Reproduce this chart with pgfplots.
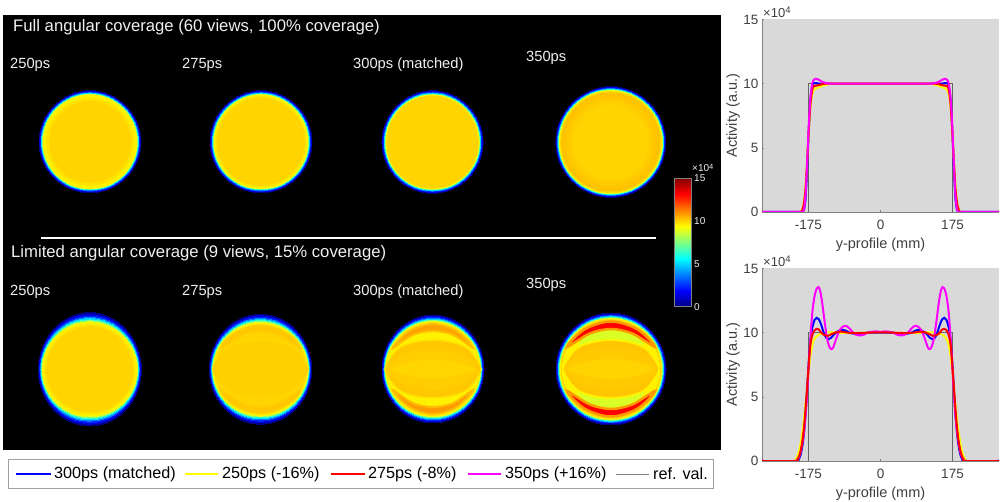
\documentclass[border=0pt]{standalone}
\usepackage{fontspec}
\setmainfont{Liberation Sans}
\usepackage{pgfplots}
\pgfplotsset{compat=1.18}
\definecolor{j0}{rgb}{0,0,.5}
\definecolor{j1}{rgb}{0,0,.85}
\definecolor{j2}{rgb}{0,.15,1}
\definecolor{j3}{rgb}{0,.5,1}
\definecolor{j4}{rgb}{0,.85,1}
\definecolor{j5}{rgb}{.2,1,.8}
\definecolor{j6}{rgb}{.55,1,.45}
\definecolor{j7}{rgb}{.85,1,.15}
\definecolor{j8}{rgb}{1,.95,0}
\definecolor{j9}{rgb}{1,.89,0}
\definecolor{gold}{rgb}{1,.83,0}
\definecolor{or}{rgb}{1,.6,0}
\definecolor{cB}{rgb}{0,0,1}
\definecolor{cY}{rgb}{1,1,0}
\definecolor{cR}{rgb}{1,0,0}
\definecolor{cM}{rgb}{1,0,1}
\definecolor{panelgray}{HTML}{D9D9D9}
\definecolor{tickgray}{HTML}{404040}
\definecolor{txt}{HTML}{F0F0F0}
\newcommand\lay[3]{\addplot[only marks,mark=*,mark size=1pt,mark options={draw=#1,line width=0pt,fill=#1,xscale=#2,yscale=#3}] coordinates {(0,0)};}
% outer rx, ry, inner rx, ry, ring width
\newcommand\edge[5]{%
\lay{j0}{#1}{#2}
\lay{j1}{#1+(#3-#1)*.18}{#2+(#4-#2)*.18}
\lay{j2}{#1+(#3-#1)*.34}{#2+(#4-#2)*.34}
\lay{j3}{#1+(#3-#1)*.48}{#2+(#4-#2)*.48}
\lay{j4}{#1+(#3-#1)*.6}{#2+(#4-#2)*.6}
\lay{j5}{#1+(#3-#1)*.72}{#2+(#4-#2)*.72}
\lay{j6}{#1+(#3-#1)*.81}{#2+(#4-#2)*.81}
\lay{j7}{#1+(#3-#1)*.9}{#2+(#4-#2)*.9}
\lay{j8}{#3}{#4}
\lay{j9}{#3-.5*#5}{#4-.5*#5}
\lay{gold}{#3-#5}{#4-#5}}
\newcommand\panel[3]{\begin{axis}[at={(#1pt,{502pt-#2pt})},anchor=center,width=130pt,height=130pt,scale only axis,xmin=-65,xmax=65,ymin=-65,ymax=65,hide axis,clip=false]
#3
\end{axis}}
\newcommand\shape[4]{\addplot[fill=#1,draw=#2,line width=#3,smooth cycle,tension=.6] coordinates {#4};}
\newcommand\eyeo{(-48,0)(-44,9)(-34,21)(-18,27)(0,29)(18,27)(34,21)(44,9)(48,0)(44,-9)(34,-21)(18,-27)(0,-29)(-18,-27)(-34,-21)(-44,-9)}
\newcommand\eyem{(-46,0)(-38,10)(-26,17)(-12,20)(0,21)(12,20)(26,17)(38,10)(46,0)(38,-10)(26,-17)(12,-20)(0,-21)(-12,-20)(-26,-17)(-38,-10)}
\newcommand\eyei{(-42,0)(-25,7)(0,10)(25,7)(42,0)(25,-7)(0,-10)(-25,-7)}
\newcommand\ctop{(-44,22)(-36,32)(-22,42)(0,47.5)(22,42)(36,32)(44,22)(34,28)(20,36)(0,40)(-20,36)(-34,28)}
\newcommand\cbot{(-44,-22)(-36,-32)(-22,-42)(0,-47.5)(22,-42)(36,-32)(44,-22)(34,-28)(20,-36)(0,-40)(-20,-36)(-34,-28)}
\newcommand\lbl[4][txt]{\node[anchor=west,inner sep=0pt,text=#1] at (#2pt,{502pt-#3pt}) {#4};}
\pgfplotsset{profile/.style={
  at={(762pt,{502pt-#1pt})},anchor=south west,width=237pt,height=192.5pt,scale only axis,
  xmin=-288,xmax=288,ymin=0,ymax=15,
  axis x line=bottom,axis y line=left,axis line style={-,draw=gray,line width=.7pt},
  axis background/.style={fill=panelgray},
  xtick={-175,0,175},xticklabels={-175,0,175},ytick={0,5,10,15},yticklabels={0,5,10,15},
  tick style={draw=gray,line width=.5pt},tick align=inside,major tick length=2pt,
  tick label style={font=\fontsize{13.5}{13.5}\selectfont,text=tickgray},
  xticklabel style={yshift=-5pt},
  label style={font=\fontsize{14.5}{14.5}\selectfont,text=tickgray},
  xlabel={y-profile (mm)},ylabel={Activity (a.u.)},
  xlabel style={at={(axis description cs:.5,0)},anchor=center,yshift=-32.5pt},
  ylabel style={at={(axis description cs:0,.5)},anchor=center,rotate=0,yshift=29pt},
  every axis plot/.append style={line width=2pt,no marks},clip=true}}
\begin{document}
\begin{tikzpicture}
\path[use as bounding box,fill=white] (0pt,0pt) rectangle (1002pt,502pt);
\fill[black] (3pt,{502pt-15pt}) rectangle (720.7pt,{502pt-450pt});

% top row
\panel{90}{141.7}{\edge{51}{51}{46.5}{46.5}{6}}
\panel{261}{141.7}{\edge{51}{51}{46.5}{46.5}{3}}
\panel{432.5}{142}{\edge{50.6}{51.3}{46.2}{46.6}{1}}
\panel{610.8}{142}{\edge{55}{55.3}{51}{51}{1}
\lay{gold!70!or}{49}{49}\lay{gold!76!or}{46}{46}\lay{gold!84!or}{43}{43}\lay{gold!92!or}{40}{40}\lay{gold}{37}{37}}
% bottom row
\panel{89.8}{369.3}{\edge{51.5}{56.7}{47}{46.5}{4}}
\panel{260.5}{369.2}{\edge{51.2}{55}{47}{46}{2}}
\panel{260.5}{369.2}{
\shape{gold!78!or}{gold!88!or}{1.5pt}{(-40,21)(-34,30)(-20,39)(0,44)(20,39)(34,30)(40,21)(30,27)(18,34)(0,38)(-18,34)(-30,27)}
\shape{gold!78!or}{gold!88!or}{1.5pt}{(-40,-21)(-34,-30)(-20,-39)(0,-44)(20,-39)(34,-30)(40,-21)(30,-27)(18,-34)(0,-38)(-18,-34)(-30,-27)}
\shape{gold!93!or}{gold!60!j9}{1pt}{\eyeo}}
\panel{433}{369}{\edge{51}{54}{47}{47}{1}
\lay{j8}{46}{46}}
\panel{433}{369}{
\shape{or!85!gold}{gold!60!or}{2pt}{(-40,21)(-33,30)(-20,40)(0,45)(20,40)(33,30)(40,21)(30,28)(18,35)(0,38)(-18,35)(-30,28)}
\shape{or}{gold!55!or}{2pt}{(-40,-21)(-33,-30)(-20,-40)(0,-45)(20,-40)(33,-30)(40,-21)(30,-28)(18,-35)(0,-38)(-18,-35)(-30,-28)}
\shape{gold!78!or}{j9}{1.5pt}{\eyeo}
\shape{gold!88!or}{gold!83!or}{1.5pt}{\eyem}
\shape{gold!95!cY}{gold!92!or}{1.5pt}{\eyei}}
\panel{611}{369}{\edge{55}{56}{50.5}{50}{1}
\lay{j8}{48.5}{47}
\lay{j7}{38}{45}}
\panel{611}{369}{
\shape{cR}{or}{2.5pt}{\ctop}
\shape{cR}{or}{2.5pt}{\cbot}
\shape{gold!75!or}{j8}{2pt}{\eyeo}
\shape{gold!86!or}{gold!80!or}{1.5pt}{\eyem}
\shape{gold}{gold!92!or}{1.5pt}{\eyei}}

% separators and texts
\draw[white,line width=1.5pt] (41pt,{502pt-238pt}) -- (656pt,{502pt-238pt});
\begingroup\fontsize{16.7}{16.7}\selectfont
\lbl{13}{27}{Full angular coverage (60 views, 100\% coverage)}
\lbl{11}{253}{Limited angular coverage (9 views, 15\% coverage)}
\endgroup
\begingroup\fontsize{14.7}{14.7}\selectfont
\lbl{10}{65}{250ps}\lbl{182}{65}{275ps}\lbl{353}{65}{300ps (matched)}\lbl{526}{58}{350ps}
\lbl{10}{292}{250ps}\lbl{182}{292}{275ps}\lbl{353}{292}{300ps (matched)}\lbl{526}{285}{350ps}
\endgroup

% colour bar
\begin{axis}[at={(674.3pt,{502pt-306.7pt})},anchor=south west,width=17.4pt,height=128.4pt,scale only axis,
  xmin=0,xmax=1,ymin=0,ymax=15,colormap/jet,axis on top,
  xtick=\empty,ytick={0,5,10,15},yticklabels={0,5,10,15},ytick pos=right,yticklabel pos=right,
  axis line style={draw=gray,line width=.5pt},major tick length=0pt,
  yticklabel style={font=\fontsize{10}{10}\selectfont,text=txt,xshift=-1pt}]
\addplot[surf,shader=interp,point meta=y,mesh/rows=2] coordinates {(0,0)(1,0)(0,15)(1,15)};
\end{axis}
\begingroup\fontsize{10}{10}\selectfont
\lbl{692}{168}{×10\raisebox{.5ex}{\fontsize{7.5}{7.5}\selectfont 4}}
\endgroup

% profile panels
\begin{axis}[profile=212]
\addplot[gray!80!black,line width=.9pt] coordinates {(-288,0)(-175,0)(-175,10)(175,10)(175,0)(288,0)};
\addplot[cB,smooth,tension=.4] coordinates {(-288,0)(-194,0)(-190,0)(-186,.15)(-182,1.1)(-178,3.6)(-174,6.6)(-170,8.8)(-166,9.8)(-162,10.05)(-156,10.05)(-145,10)(0,10)(145,10)(156,10.05)(162,10.05)(166,9.8)(170,8.8)(174,6.6)(178,3.6)(182,1.1)(186,.15)(190,0)(194,0)(288,0)};
\addplot[cY,smooth,tension=.4] coordinates {(-288,0)(-200,0)(-192,.1)(-188,.4)(-184,1.3)(-180,3.1)(-176,5.4)(-172,7.5)(-168,8.8)(-164,9.4)(-158,9.62)(-150,9.72)(-140,9.85)(-125,9.97)(-110,10)(0,10)(110,10)(125,9.97)(140,9.85)(150,9.72)(158,9.62)(164,9.4)(168,8.8)(172,7.5)(176,5.4)(180,3.1)(184,1.3)(188,.4)(192,.1)(200,0)(288,0)};
\addplot[cR,smooth,tension=.4] coordinates {(-288,0)(-198,0)(-190,.2)(-186,.7)(-182,1.9)(-178,4.1)(-174,6.6)(-170,8.5)(-166,9.5)(-162,9.82)(-155,9.85)(-145,9.92)(-130,10)(0,10)(130,10)(145,9.92)(155,9.85)(162,9.82)(166,9.5)(170,8.5)(174,6.6)(178,4.1)(182,1.9)(186,.7)(190,.2)(198,0)(288,0)};
\addplot[cM,smooth,tension=.4] coordinates {(-288,0)(-194,0)(-190,0)(-186,.2)(-182,1.3)(-178,4.1)(-174,7)(-170,9)(-166,10)(-162,10.3)(-157,10.38)(-150,10.3)(-140,10.12)(-128,10.02)(-115,10)(0,10)(115,10)(128,10.02)(140,10.12)(150,10.3)(157,10.38)(162,10.3)(166,10)(170,9)(174,7)(178,4.1)(182,1.3)(186,.2)(190,0)(194,0)(288,0)};
\end{axis}
\begin{axis}[profile=461]
\addplot[gray!80!black,line width=.9pt] coordinates {(-288,0)(-175,0)(-175,10)(175,10)(175,0)(288,0)};
\addplot[cY,smooth,tension=.5] coordinates {(-288,0)(-212,0)(-206,.15)(-200,.55)(-194,1.4)(-188,2.7)(-182,4.5)(-176,6.5)(-171,8)(-166,9)(-160,9.55)(-152,9.8)(-142,9.95)(-130,10.02)(-115,10.02)(-90,9.98)(0,10)(90,9.98)(115,10.02)(130,10.02)(142,9.95)(152,9.8)(160,9.55)(166,9)(171,8)(176,6.5)(182,4.5)(188,2.7)(194,1.4)(200,.55)(206,.15)(212,0)(288,0)};
\addplot[cB,smooth,tension=.5] coordinates {(-288,0)(-206,0)(-200,.08)(-194,.5)(-188,1.6)(-183,3.3)(-178,5.8)(-174,7.9)(-170,9.5)(-165,10.5)(-160,11)(-155,11.15)(-150,11.05)(-144,10.6)(-138,10)(-132,9.6)(-126,9.5)(-120,9.6)(-112,9.9)(-102,10.13)(-92,10.22)(-84,10.15)(-74,9.98)(-60,9.9)(-48,9.92)(-30,10)(0,10)(30,10)(48,9.92)(60,9.9)(74,9.98)(84,10.15)(92,10.22)(102,10.13)(112,9.9)(120,9.6)(126,9.5)(132,9.6)(138,10)(144,10.6)(150,11.05)(155,11.15)(160,11)(165,10.5)(170,9.5)(174,7.9)(178,5.8)(183,3.3)(188,1.6)(194,.5)(200,.08)(206,0)(288,0)};
\addplot[cM,smooth,tension=.5] coordinates {(-288,0)(-210,0)(-204,.05)(-198,.3)(-192,1)(-186,2.3)(-181,4)(-177,6)(-173,8.2)(-169,10.2)(-165,11.8)(-160,12.9)(-155,13.45)(-151,13.55)(-147,13.3)(-142,12.4)(-136,10.9)(-130,9.6)(-125,8.95)(-120,8.72)(-115,8.85)(-108,9.5)(-100,10.15)(-92,10.45)(-84,10.53)(-76,10.35)(-68,10.05)(-60,9.85)(-50,9.78)(-42,9.82)(-32,9.98)(-20,10.08)(-10,10.1)(0,10.05)(10,10.1)(20,10.08)(32,9.98)(42,9.82)(50,9.78)(60,9.85)(68,10.05)(76,10.35)(84,10.53)(92,10.45)(100,10.15)(108,9.5)(115,8.85)(120,8.72)(125,8.95)(130,9.6)(136,10.9)(142,12.4)(147,13.3)(151,13.55)(155,13.45)(160,12.9)(165,11.8)(169,10.2)(173,8.2)(177,6)(181,4)(186,2.3)(192,1)(198,.3)(204,.05)(210,0)(288,0)};
\addplot[cR,smooth,tension=.5] coordinates {(-288,0)(-208,0)(-202,.12)(-196,.55)(-190,1.5)(-185,2.9)(-180,5)(-175,7.3)(-171,8.9)(-166,9.8)(-160,10.2)(-155,10.3)(-150,10.25)(-144,10)(-136,9.8)(-128,9.75)(-118,9.9)(-105,10.05)(-95,10.08)(-80,10)(-60,9.97)(-30,10)(0,10.03)(30,10)(60,9.97)(80,10)(95,10.08)(105,10.05)(118,9.9)(128,9.75)(136,9.8)(144,10)(150,10.25)(155,10.3)(160,10.2)(166,9.8)(171,8.9)(175,7.3)(180,5)(185,2.9)(190,1.5)(196,.55)(202,.12)(208,0)(288,0)};
\end{axis}
\begingroup\fontsize{13}{13}\selectfont
\lbl[tickgray]{763}{12}{×10\raisebox{.55ex}{\fontsize{9.5}{9.5}\selectfont 4}}
\lbl[tickgray]{763}{261}{×10\raisebox{.55ex}{\fontsize{9.5}{9.5}\selectfont 4}}
\endgroup

% legend
\draw[gray!75,line width=1pt,fill=white] (8.7pt,{502pt-459.3pt}) rectangle (713pt,{502pt-488.7pt});
\draw[cB,line width=1.5pt] (16pt,{502pt-474pt}) -- (50.5pt,{502pt-474pt});
\draw[cY,line width=1.5pt] (184.7pt,{502pt-474pt}) -- (218pt,{502pt-474pt});
\draw[cR,line width=1.5pt] (331pt,{502pt-474pt}) -- (365pt,{502pt-474pt});
\draw[cM,line width=1.5pt] (468pt,{502pt-474pt}) -- (501pt,{502pt-474pt});
\draw[gray,line width=.9pt] (616pt,{502pt-474pt}) -- (649pt,{502pt-474pt});
\begingroup\fontsize{16.2}{16.2}\selectfont
\lbl[black]{54}{474}{300ps (matched)}
\lbl[black]{222}{474}{250ps (-16\%)}
\lbl[black]{368}{474}{275ps (-8\%)}
\lbl[black]{505}{474}{350ps (+16\%)}
\lbl[black]{653}{474}{ref. val.}
\endgroup
\end{tikzpicture}
\end{document}
